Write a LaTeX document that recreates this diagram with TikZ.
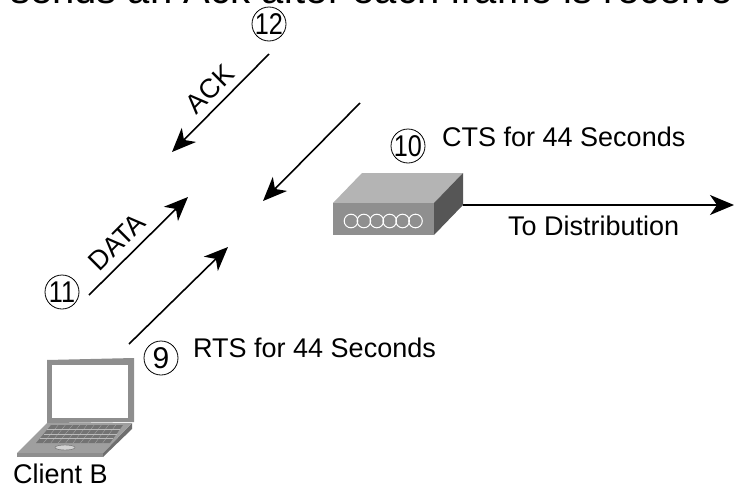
\documentclass[tikz,border=0pt]{standalone}
\usepackage{fontspec}
\setmainfont{Liberation Sans}
\definecolor{lapgrey}{HTML}{8E8E8E}
\definecolor{baseside}{HTML}{6E6E6E}
\definecolor{boxtop}{HTML}{B4B4B4}
\definecolor{boxfront}{HTML}{8F8F8F}
\definecolor{boxside}{HTML}{565656}
\usetikzlibrary{arrows.meta}
\newcommand{\numtxt}[2][0.84]{\makebox[0pt]{\raisebox{-10.5pt}[0pt][0pt]{\scalebox{#1}[1]{\fontsize{30}{30}\selectfont #2}}}}
\tikzset{
	numcirc/.style={draw,line width=0.8pt,circle,inner sep=0pt,minimum size=34pt},
	msg/.style={font=\fontsize{27}{27}\selectfont,inner sep=0pt},
	flow/.style={-{Stealth[length=24pt,width=20pt,inset=7pt]},line width=1.6pt},
}
\begin{document}
\begin{tikzpicture}[line join=round,x=1pt,y=-1pt]
		\useasboundingbox (0,0) rectangle (734,490);
		\begin{scope}
		\clip (0,0) rectangle (734,490);
		\node[anchor=base west,inner sep=0pt,font=\fontsize{40}{40}\selectfont] (title) at (10,3.5) {sends an Ack after each frame is received};
		\end{scope}
		% laptop
		\fill[lapgrey] (47,360)--(134,358)--(134,422)--(47,423)--cycle;
		\fill[white] (52,365) rectangle (128,418);
		\fill[baseside] (132,423)--(132,429)--(103,457)--(103,453)--cycle;
		\fill[lapgrey!85] (47,423)--(132,423)--(103,453)--(17,453)--cycle;
		\fill[lapgrey] (17,453) rectangle (103,457);
		\fill[black!55] (51,425)--(123,425)--(110,443)--(36,443)--cycle;
		\foreach \t in {0.25,0.5,0.75}
		\draw[lapgrey!60,very thin] ({51-15*\t},{425+18*\t})--({123-13*\t},{425+18*\t});
		\foreach \t in {0.1,0.2,...,0.9}
		\draw[lapgrey!60,very thin] ({51+72*\t},425)--({36+74*\t},443);
		\draw[black!60,fill=lapgrey!40] (65,447.5) ellipse (10 and 2.5);
		\node[msg,anchor=west] (client) at (13,474) {Client B};
		% access point
		\fill[boxtop] (333,203)--(362,173)--(463,173)--(434,203)--cycle;
		\fill[boxfront] (333,203) rectangle (434,235);
		\fill[boxside] (434,203)--(463,173)--(463,205)--(434,235)--cycle;
		\foreach \x in {0,...,5}
		\draw[white,line width=1pt] ({351+12.9*\x},221) circle (6.8);
		\coordinate (ap) at (463,205);
		\coordinate (dist) at (734,205);
		\draw[flow] (ap)--(dist);
		\node[msg,anchor=west] (tolabel) at (508,226) {To Distribution};
		\node[msg,anchor=west] (cts) at (442,137) {CTS for 44 Seconds};
		\node[msg,anchor=west] (rts) at (193,348) {RTS for 44 Seconds};
		% arrows
		\coordinate (acka) at (269,54);
		\coordinate (ackb) at (172,152);
		\coordinate (ctsa) at (360,103);
		\coordinate (ctsb) at (263,201);
		\coordinate (dataa) at (89,295);
		\coordinate (datab) at (188,197);
		\coordinate (rtsa) at (129,344);
		\coordinate (rtsb) at (228,247);
		\draw[flow] (acka)--(ackb);
		\draw[flow] (ctsa)--(ctsb);
		\draw[flow] (dataa)--(datab);
		\draw[flow] (rtsa)--(rtsb);
		\node[msg,rotate=45] (ack) at (210,89) {ACK};
		\node[msg,rotate=45] (data) at (117,242) {DATA};
		% numbers
		\node[numcirc] (n12) at (269,24) {\numtxt{12}};
		\node[numcirc] (n11) at (62,292) {\numtxt{11}};
		\node[numcirc] (n9) at (161,358) {\numtxt[1]{9}};
		\node[numcirc] (n10) at (408,146) {\numtxt{10}};
\end{tikzpicture}
\end{document}
